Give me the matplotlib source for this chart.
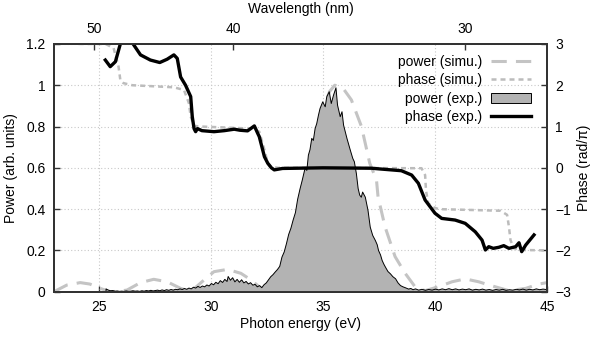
import numpy as np
import matplotlib.pyplot as plt
from matplotlib.patches import Patch
from matplotlib.lines import Line2D

plt.rcParams['font.family'] = ['Liberation Sans', 'DejaVu Sans']
plt.rcParams['font.size'] = 10

# simulated power (arb. units)
sim_e = [23.0, 23.57, 24.17, 24.6, 25.06, 25.5, 25.9, 26.26, 26.86, 27.45, 28.05, 28.65, 29.1,
         29.7, 30.14, 30.74, 31.34, 31.79, 32.24, 32.54, 32.69, 33.06, 33.36, 33.8, 34.2,
         34.6, 35.0, 35.3, 35.53, 35.9, 36.27, 36.72, 37.09, 37.39, 37.46, 37.77, 38.22,
         38.67, 39.11, 39.56, 40.16, 40.76, 41.35, 41.95, 42.55, 43.3, 44.05, 44.64, 45.0]
sim_p = [0.0, 0.032, 0.044, 0.037, 0.016, 0.0, 0.002, 0.008, 0.044, 0.06, 0.048, 0.016, 0.0,
         0.057, 0.097, 0.108, 0.089, 0.057, 0.016, 0.005, 0.04, 0.089, 0.17, 0.33, 0.52,
         0.72, 0.88, 0.97, 1.0, 0.985, 0.929, 0.8, 0.622, 0.541, 0.46, 0.315, 0.17,
         0.089, 0.024, 0.005, 0.024, 0.048, 0.062, 0.048, 0.028, 0.005, 0.016, 0.037, 0.044]

# simulated phase (rad/pi)
sph_e = [24.1, 25.3, 25.66, 25.88, 25.96, 26.1, 26.5, 28.35, 28.8, 29.02, 29.1, 29.25, 29.55,
         31.79, 32.16, 32.39, 32.54, 32.69, 33.0, 39.4, 39.56, 39.6, 39.7, 39.93, 40.16,
         42.93, 43.22, 43.3, 43.37, 43.52, 43.9, 45.0]
sph_v = [3.0, 3.0, 2.9, 2.45, 2.13, 2.05, 2.0, 1.95, 1.885, 1.565, 1.24, 1.015, 1.0,
         0.95, 0.875, 0.435, 0.11, 0.03, 0.0, -0.01, -0.175, -0.55, -0.86, -0.955, -1.0,
         -1.04, -1.14, -1.425, -1.75, -1.95, -1.99, -2.0]

# measured power (arb. units)
exp_e = [25.30, 25.40, 25.50, 25.60, 25.70, 25.80, 25.90, 26.00, 26.10, 26.20, 26.30, 26.40,
         26.50, 26.60, 26.70, 26.80, 26.90, 27.00, 27.10, 27.20, 27.30, 27.40, 27.50, 27.60,
         27.70, 27.80, 27.90, 28.00, 28.10, 28.20, 28.30, 28.40, 28.50, 28.60, 28.70, 28.80,
         28.90, 29.00, 29.10, 29.20, 29.30, 29.40, 29.50, 29.60, 29.70, 29.80, 29.90, 30.00,
         30.10, 30.20, 30.30, 30.40, 30.50, 30.60, 30.70, 30.75, 30.85, 30.95, 31.05, 31.15,
         31.25, 31.35, 31.45, 31.55, 31.65, 31.75, 31.85, 31.95, 32.05, 32.15, 32.25, 32.35,
         32.45, 32.55, 32.65, 32.75, 32.85, 32.95, 33.05, 33.15, 33.25, 33.35, 33.45, 33.55,
         33.65, 33.75, 33.85, 33.96, 34.05, 34.18, 34.26, 34.33, 34.40, 34.48, 34.55, 34.63,
         34.70, 34.78, 34.85, 34.97, 35.08, 35.15, 35.26, 35.35, 35.45, 35.56, 35.63, 35.75,
         35.83, 35.90, 36.05, 36.20, 36.31, 36.38, 36.47, 36.55, 36.62, 36.69, 36.75, 36.87,
         36.99, 37.09, 37.20, 37.32, 37.40, 37.46, 37.55, 37.62, 37.70, 37.77, 37.88, 37.99,
         38.10, 38.22, 38.33, 38.44, 38.55, 38.67, 38.80, 38.90, 39.00, 39.11, 39.25, 39.40,
         39.55, 39.70, 39.85, 40.00, 40.15, 40.30, 40.45, 40.60, 40.75, 40.90, 41.05, 41.20,
         41.35, 41.50, 41.65, 41.80, 41.95, 42.10, 42.25, 42.40, 42.55, 42.70, 42.85, 43.00,
         43.15, 43.30, 43.45, 43.60, 43.75, 43.90, 44.05, 44.20, 44.35, 44.50, 44.65, 44.80,
         45.00]
exp_p = [0.016, 0.010, 0.007, 0.008, 0.005, 0.006, 0.004, 0.005, 0.004, 0.006, 0.004, 0.005,
         0.007, 0.005, 0.006, 0.004, 0.007, 0.005, 0.008, 0.006, 0.009, 0.006, 0.008, 0.010,
         0.007, 0.011, 0.008, 0.012, 0.009, 0.013, 0.010, 0.014, 0.012, 0.016, 0.013, 0.018,
         0.014, 0.020, 0.016, 0.024, 0.020, 0.028, 0.023, 0.030, 0.026, 0.035, 0.030, 0.042,
         0.036, 0.048, 0.041, 0.056, 0.047, 0.062, 0.052, 0.076, 0.058, 0.070, 0.050, 0.062,
         0.048, 0.060, 0.045, 0.052, 0.040, 0.046, 0.034, 0.038, 0.026, 0.032, 0.022, 0.036,
         0.045, 0.060, 0.075, 0.085, 0.098, 0.110, 0.125, 0.170, 0.195, 0.235, 0.280, 0.310,
         0.350, 0.385, 0.450, 0.502, 0.540, 0.600, 0.590, 0.664, 0.690, 0.745, 0.735, 0.793,
         0.816, 0.858, 0.890, 0.922, 0.898, 0.947, 0.971, 0.914, 0.954, 0.990, 0.906, 0.850,
         0.874, 0.809, 0.745, 0.688, 0.648, 0.632, 0.575, 0.502, 0.470, 0.460, 0.485, 0.460,
         0.396, 0.315, 0.275, 0.250, 0.230, 0.202, 0.180, 0.154, 0.135, 0.121, 0.100, 0.089,
         0.075, 0.065, 0.045, 0.032, 0.026, 0.021, 0.015, 0.018, 0.012, 0.016, 0.010, 0.014,
         0.009, 0.013, 0.010, 0.015, 0.011, 0.016, 0.012, 0.017, 0.012, 0.016, 0.011, 0.015,
         0.012, 0.016, 0.010, 0.014, 0.011, 0.015, 0.010, 0.013, 0.009, 0.013, 0.010, 0.014,
         0.009, 0.012, 0.010, 0.014, 0.011, 0.015, 0.010, 0.014, 0.011, 0.016, 0.012, 0.015,
         0.012]

# measured phase (rad/pi)
eph_e = [25.29, 25.51, 25.74, 25.96, 26.25, 26.53, 26.86, 27.3, 27.72, 28.05, 28.35, 28.5,
         28.65, 28.87, 29.1, 29.17, 29.25, 29.32, 29.4, 29.6, 30.14, 30.6, 31.04, 31.3,
         31.64, 31.94, 32.09, 32.16, 32.39, 32.54, 32.7, 32.83, 33.2, 35.0, 37.17, 37.6,
         38.5, 38.96, 39.26, 39.56, 40.0, 40.3, 40.9, 41.35, 41.8, 42.1, 42.25, 42.4,
         42.6, 42.85, 43.07, 43.3, 43.6, 43.75, 43.87, 44.05, 44.42]
eph_v = [2.61, 2.45, 2.57, 3.0, 3.25, 3.0, 2.735, 2.61, 2.55, 2.63, 2.735, 2.65,
         2.2, 2.0, 1.725, 1.24, 0.95, 0.875, 0.95, 0.9, 0.875, 0.9, 0.935, 0.91,
         0.895, 1.015, 0.835, 0.755, 0.27, 0.11, 0.0, -0.05, -0.015, 0.0, -0.01, -0.03,
         -0.07, -0.175, -0.375, -0.78, -1.1, -1.225, -1.265, -1.345, -1.55, -1.75, -1.99, -1.91,
         -1.95, -1.925, -1.885, -1.95, -1.91, -1.815, -2.03, -1.87, -1.625]

labels = ['power (simu.)', 'phase (simu.)', 'power (exp.)', 'phase (exp.)']

fig = plt.figure(figsize=(5.94, 3.38), dpi=100)
ax = fig.add_axes([0.0909, 0.137, 0.83, 0.733])
ax2 = ax.twinx()

ax.plot(sim_e, sim_p, color='#c4c4c4', lw=2.2, dashes=(5, 3), zorder=2)
ax.fill_between(exp_e, exp_p, 0, facecolor='#b3b3b3', edgecolor='black', lw=0.7, zorder=3)

ax2.plot(sph_e, sph_v, color='#bcbcbc', lw=1.8, dashes=(2, 1.6))
ax2.plot(eph_e, eph_v, color='black', lw=2.4)

ax.set_xlim(23, 45)
ax.set_ylim(0, 1.2)
ax2.set_ylim(-3, 3)
ax.set_xticks([25, 30, 35, 40, 45])
ax.set_yticks([0, 0.2, 0.4, 0.6, 0.8, 1.0, 1.2])
ax.set_yticklabels(['0', '0.2', '0.4', '0.6', '0.8', '1', '1.2'])
ax2.set_yticks([-3, -2, -1, 0, 1, 2, 3])

ax.grid(True, color='#c8c8c8', ls=(0, (1, 2)), lw=0.8)
ax.set_axisbelow(True)

top = ax.secondary_xaxis('top', functions=(lambda e: 1239.84 / e, lambda w: 1239.84 / w))
top.set_xticks([50, 40, 30])
top.set_xlabel('Wavelength (nm)', labelpad=6)

for a in (ax, ax2):
    a.tick_params(direction='in', length=4.5, width=1, color='#333333', pad=6)
    for s in a.spines.values():
        s.set_linewidth(1.4)
        s.set_color('#333333')
top.tick_params(direction='in', length=4.5, width=1, color='#333333', pad=6)
top.spines['top'].set_linewidth(1.4)
top.spines['top'].set_color('#333333')

ax.set_xlabel('Photon energy (eV)', labelpad=2)
ax.set_ylabel('Power (arb. units)', labelpad=6)
ax2.set_ylabel('Phase (rad/\u03c0)', labelpad=4)

handles = [Line2D([], [], color='#c4c4c4', lw=2.2, dashes=(5, 3)),
           Line2D([], [], color='#bcbcbc', lw=1.8, dashes=(2, 1.6)),
           Patch(facecolor='#b3b3b3', edgecolor='black', lw=0.7),
           Line2D([], [], color='black', lw=2.4)]
ax2.legend(handles, labels, loc='upper right', bbox_to_anchor=(0.985, 0.99),
           frameon=False, markerfirst=False, handlelength=2.9, handletextpad=0.65,
           labelspacing=0.32, borderaxespad=0.2, fontsize=10)

fig.savefig('out.png', dpi=100)
